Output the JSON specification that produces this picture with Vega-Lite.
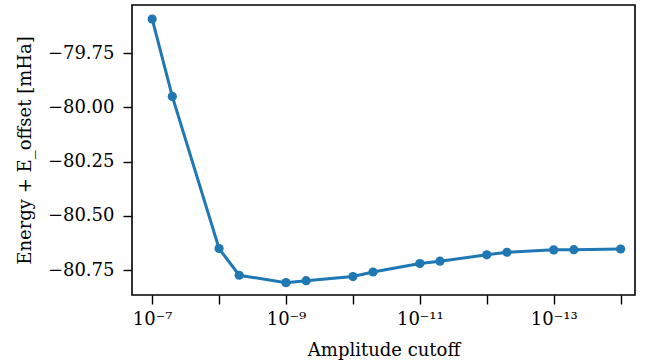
{
  "$schema": "https://vega.github.io/schema/vega-lite/v6.json",
  "width": 503,
  "height": 290,
  "autosize": {"type": "none"},
  "padding": {"left": 132, "top": 5, "right": 15, "bottom": 67},
  "background": "white",
  "config": {
    "font": "DejaVu Serif",
    "view": {"stroke": "black", "strokeWidth": 1.6},
    "axis": {
      "domain": false,
      "grid": false,
      "tickColor": "black",
      "tickWidth": 1.4,
      "tickSize": 9,
      "labelFont": "DejaVu Serif",
      "labelFontSize": 18,
      "labelColor": "black",
      "titleFont": "DejaVu Serif",
      "titleFontSize": 18,
      "titleFontWeight": "normal",
      "titleColor": "black"
    }
  },
  "data": {
    "values": [
      {"cutoff": 1e-7, "energy": -79.593},
      {"cutoff": 5e-8, "energy": -79.950},
      {"cutoff": 1e-8, "energy": -80.651},
      {"cutoff": 5e-9, "energy": -80.774},
      {"cutoff": 1e-9, "energy": -80.808},
      {"cutoff": 5e-10, "energy": -80.799},
      {"cutoff": 1e-10, "energy": -80.780},
      {"cutoff": 5e-11, "energy": -80.759},
      {"cutoff": 1e-11, "energy": -80.720},
      {"cutoff": 5e-12, "energy": -80.709},
      {"cutoff": 1e-12, "energy": -80.680},
      {"cutoff": 5e-13, "energy": -80.668},
      {"cutoff": 1e-13, "energy": -80.657},
      {"cutoff": 5e-14, "energy": -80.656},
      {"cutoff": 1e-14, "energy": -80.653}
    ]
  },
  "encoding": {
    "x": {
      "field": "cutoff",
      "type": "quantitative",
      "scale": {"type": "log", "domain": [6.1e-15, 2.0e-7], "reverse": true, "nice": false},
      "axis": {
        "title": "Amplitude cutoff",
        "values": [1e-7, 1e-8, 1e-9, 1e-10, 1e-11, 1e-12, 1e-13, 1e-14],
        "labelExpr": "datum.value > 5e-8 ? '10⁻⁷' : (datum.value > 5e-10 && datum.value < 5e-9) ? '10⁻⁹' : (datum.value > 5e-12 && datum.value < 5e-11) ? '10⁻¹¹' : (datum.value > 5e-14 && datum.value < 5e-13) ? '10⁻¹³' : ''",
        "labelPadding": 6,
        "titlePadding": 13
      }
    },
    "y": {
      "field": "energy",
      "type": "quantitative",
      "scale": {"domain": [-80.865, -79.5285], "nice": false, "zero": false},
      "axis": {
        "title": "Energy + E_offset [mHa]",
        "values": [-80.75, -80.5, -80.25, -80.0, -79.75],
        "format": ".2f",
        "labelExpr": "replace(datum.label, '-', '−')",
        "labelPadding": 9,
        "titlePadding": 13
      }
    }
  },
  "layer": [
    {"mark": {"type": "line", "color": "#1f77b4", "strokeWidth": 3}},
    {"mark": {"type": "point", "filled": true, "color": "#1f77b4", "opacity": 1, "size": 85}}
  ]
}
